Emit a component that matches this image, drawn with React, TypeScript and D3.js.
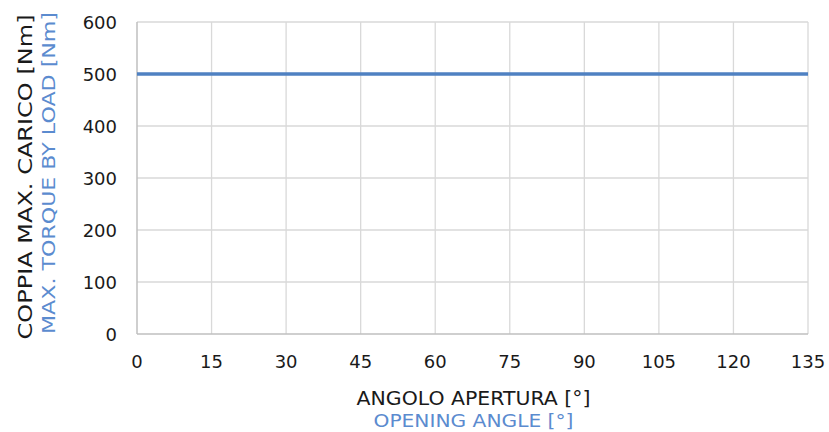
import { useEffect, useRef } from 'react'
import * as d3 from 'd3'

const xTicks = [0, 15, 30, 45, 60, 75, 90, 105, 120, 135]
const yTicks = [0, 100, 200, 300, 400, 500, 600]
const angle = [0, 135]
const torque = [500, 500]

const FONT = '"DejaVu Sans", sans-serif'
const BLUE = '#4f81c2'
const TITLE_BLUE = '#5b8bcf'

export default function App() {
  const svgRef = useRef<SVGSVGElement>(null)

  useEffect(() => {
    if (!svgRef.current) return
    const svg = d3.select(svgRef.current)
    svg.selectAll('*').remove()

    const margin = { top: 22, right: 21, bottom: 98, left: 137 }
    const W = 829, H = 432
    const width = W - margin.left - margin.right
    const height = H - margin.top - margin.bottom

    const g = svg.append('g').attr('transform', `translate(${margin.left},${margin.top})`)

    const x = d3.scaleLinear().domain([0, 135]).range([0, width])
    const y = d3.scaleLinear().domain([0, 600]).range([height, 0])

    // grid
    g.selectAll('.hgrid').data(yTicks.filter(d => d > 0)).enter().append('line')
      .attr('x1', 0).attr('x2', width)
      .attr('y1', d => y(d)).attr('y2', d => y(d))
      .attr('stroke', '#d9d9d9').attr('stroke-width', 1.3)
    g.selectAll('.vgrid').data(xTicks.filter(d => d > 0)).enter().append('line')
      .attr('y1', 0).attr('y2', height)
      .attr('x1', d => x(d)).attr('x2', d => x(d))
      .attr('stroke', '#d9d9d9').attr('stroke-width', 1.3)

    // axis lines
    g.append('line').attr('x1', 0).attr('x2', 0).attr('y1', 0).attr('y2', height)
      .attr('stroke', '#bfbfbf').attr('stroke-width', 1.5)
    g.append('line').attr('x1', 0).attr('x2', width).attr('y1', height).attr('y2', height)
      .attr('stroke', '#bfbfbf').attr('stroke-width', 1.5)

    // tick labels
    g.selectAll('.ylab').data(yTicks).enter().append('text')
      .attr('x', -20).attr('y', d => y(d)).attr('dy', '0.38em')
      .attr('text-anchor', 'end')
      .style('font-family', FONT).style('font-size', '18px').attr('fill', '#1a1a1a')
      .text(d => d)
    g.selectAll('.xlab').data(xTicks).enter().append('text')
      .attr('x', d => x(d)).attr('y', height + 34)
      .attr('text-anchor', 'middle')
      .style('font-family', FONT).style('font-size', '18px').attr('fill', '#1a1a1a')
      .text(d => d)

    // series
    const line = d3.line<number>()
      .x((_, i) => x(angle[i]))
      .y(d => y(d))
    g.append('path').datum(torque)
      .attr('fill', 'none').attr('stroke', BLUE).attr('stroke-width', 3.5)
      .attr('d', line)

    // axis titles
    const cx = width / 2
    g.append('text').attr('x', cx + 1).attr('y', height + 71)
      .attr('text-anchor', 'middle')
      .style('font-family', FONT).style('font-size', '19px').attr('fill', '#1a1a1a')
      .attr('textLength', 234).attr('lengthAdjust', 'spacingAndGlyphs')
      .text('ANGOLO APERTURA [°]')
    g.append('text').attr('x', cx + 1).attr('y', height + 93)
      .attr('text-anchor', 'middle')
      .style('font-family', FONT).style('font-size', '17px').attr('fill', TITLE_BLUE)
      .attr('textLength', 200).attr('lengthAdjust', 'spacingAndGlyphs')
      .text('OPENING ANGLE [°]')

    const cy = margin.top + 155
    svg.append('text')
      .attr('transform', `translate(32,${cy}) rotate(-90)`)
      .attr('text-anchor', 'middle')
      .style('font-family', FONT).style('font-size', '19px').attr('fill', '#1a1a1a')
      .attr('textLength', 325).attr('lengthAdjust', 'spacingAndGlyphs')
      .text('COPPIA MAX. CARICO [Nm]')
    svg.append('text')
      .attr('transform', `translate(55,${cy - 4}) rotate(-90)`)
      .attr('text-anchor', 'middle')
      .style('font-family', FONT).style('font-size', '17px').attr('fill', TITLE_BLUE)
      .attr('textLength', 322).attr('lengthAdjust', 'spacingAndGlyphs')
      .text('MAX. TORQUE BY LOAD [Nm]')
  }, [])

  return <svg ref={svgRef} width={829} height={432} style={{ position: 'absolute', left: 0, top: 0, background: '#fff' }} />
}
